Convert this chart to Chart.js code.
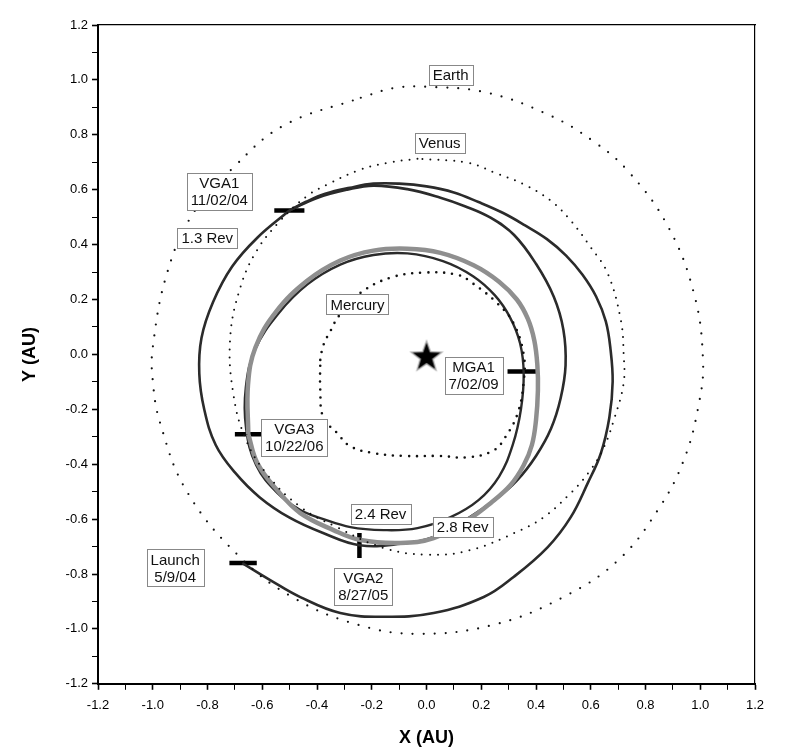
<!DOCTYPE html>
<html>
<head>
<meta charset="utf-8">
<script src="https://cdn.jsdelivr.net/npm/chart.js@4.4.0/dist/chart.umd.min.js"></script>
<style>
html, body { margin: 0; padding: 0; background: #fff; }
#wrap { width: 800px; height: 756px; }
</style>
</head>
<body>
<div id="wrap"><canvas id="orbits"></canvas></div>
<script>
"use strict";

// planet orbits (AU)
const earthOrbit = [
    [-0.24, 0.935], [-0.12, 0.97], [0.0, 0.975], [0.223, 0.953], [0.454, 0.869], [0.607, 0.778],
    [0.735, 0.669], [0.88, 0.47], [0.977, 0.222], [1.01, -0.02], [0.995, -0.18], [0.94, -0.385],
    [0.845, -0.567], [0.70, -0.75], [0.50, -0.884], [0.245, -0.985], [-0.033, -1.018], [-0.25, -0.985],
    [-0.48, -0.89], [-0.68, -0.74], [-0.875, -0.50], [-0.973, -0.25], [-1.0, -0.095], [-1.0, 0.025],
    [-0.948, 0.295], [-0.853, 0.513], [-0.706, 0.68], [-0.523, 0.833], [-0.24, 0.935]
];
const venusOrbit = [
    [-0.033, 0.713], [-0.143, 0.698], [-0.25, 0.67], [-0.36, 0.62], [-0.435, 0.578], [-0.534, 0.487],
    [-0.62, 0.378], [-0.68, 0.244], [-0.717, 0.062], [-0.706, -0.142], [-0.66, -0.31], [-0.58, -0.44],
    [-0.46, -0.556], [-0.326, -0.63], [-0.157, -0.705], [0.004, -0.73], [0.16, -0.713], [0.344, -0.64],
    [0.428, -0.593], [0.527, -0.505], [0.60, -0.42], [0.648, -0.338], [0.684, -0.24], [0.72, -0.105],
    [0.72, 0.004], [0.71, 0.124], [0.662, 0.295], [0.60, 0.39], [0.527, 0.487], [0.454, 0.56],
    [0.355, 0.62], [0.26, 0.658], [0.15, 0.698], [-0.033, 0.713]
];
const mercuryOrbit = [
    [-0.388, -0.02], [-0.377, 0.033], [-0.35, 0.087], [-0.32, 0.14], [-0.24, 0.225], [-0.13, 0.28],
    [-0.01, 0.298], [0.113, 0.29], [0.17, 0.258], [0.26, 0.185], [0.318, 0.113], [0.355, 0.0],
    [0.355, -0.1], [0.333, -0.215], [0.289, -0.30], [0.245, -0.35], [0.15, -0.375], [0.05, -0.37],
    [-0.08, -0.37], [-0.19, -0.36], [-0.278, -0.335], [-0.326, -0.287], [-0.377, -0.23], [-0.388, -0.13],
    [-0.388, -0.02]
];

// spacecraft trajectory legs (AU)
const launchLeg = [
    [-0.673, -0.76], [-0.571, -0.822], [-0.461, -0.884], [-0.315, -0.942], [-0.157, -0.956], [0.026, -0.942],
    [0.209, -0.884], [0.318, -0.811], [0.443, -0.702], [0.527, -0.593], [0.589, -0.469], [0.637, -0.36],
    [0.668, -0.23], [0.68, -0.10], [0.672, 0.02], [0.655, 0.12], [0.62, 0.21], [0.57, 0.29],
    [0.51, 0.36], [0.44, 0.42], [0.36, 0.47], [0.28, 0.515], [0.19, 0.555], [0.1, 0.59], [0.0, 0.612],
    [-0.1, 0.622], [-0.194, 0.622], [-0.28, 0.607], [-0.37, 0.585], [-0.44, 0.556], [-0.501, 0.524]
];
const vga1Leg = [
    [-0.501, 0.524], [-0.618, 0.425], [-0.71, 0.32], [-0.78, 0.19], [-0.822, 0.06], [-0.83, -0.07],
    [-0.812, -0.2], [-0.77, -0.33], [-0.70, -0.43], [-0.61, -0.52], [-0.50, -0.595], [-0.38, -0.65],
    [-0.245, -0.695], [-0.095, -0.69], [0.026, -0.665], [0.15, -0.598], [0.25, -0.53], [0.33, -0.46],
    [0.40, -0.37], [0.455, -0.27], [0.49, -0.16], [0.508, -0.04], [0.50, 0.09], [0.465, 0.21],
    [0.40, 0.33], [0.32, 0.435], [0.234, 0.498], [0.14, 0.54], [0.051, 0.571], [-0.07, 0.602],
    [-0.194, 0.615], [-0.29, 0.60], [-0.40, 0.57], [-0.501, 0.524]
];
const vga2Leg = [
    [-0.399, -0.593], [-0.278, -0.629], [-0.157, -0.64], [-0.033, -0.633], [0.088, -0.593], [0.19, -0.531],
    [0.265, -0.445], [0.315, -0.33], [0.345, -0.2], [0.355, -0.069], [0.342, 0.04], [0.305, 0.135],
    [0.25, 0.215], [0.17, 0.285], [0.06, 0.34], [-0.07, 0.368], [-0.194, 0.362], [-0.315, 0.327],
    [-0.435, 0.255], [-0.54, 0.15], [-0.625, 0.02], [-0.66, -0.12], [-0.659, -0.27], [-0.622, -0.404],
    [-0.545, -0.505], [-0.461, -0.567], [-0.399, -0.593]
];
const vga3Leg = [
    [-0.651, -0.291], [-0.618, -0.396], [-0.545, -0.495], [-0.461, -0.578], [-0.34, -0.64], [-0.241, -0.676],
    [-0.095, -0.687], [0.026, -0.669], [0.15, -0.604], [0.234, -0.542], [0.307, -0.476], [0.355, -0.404],
    [0.385, -0.33], [0.40, -0.24], [0.407, -0.131], [0.405, -0.04], [0.394, 0.05], [0.37, 0.13],
    [0.33, 0.2], [0.265, 0.265], [0.172, 0.325], [0.051, 0.37], [-0.07, 0.385], [-0.194, 0.378],
    [-0.315, 0.342], [-0.435, 0.269], [-0.55, 0.155], [-0.625, 0.025], [-0.652, -0.11], [-0.651, -0.291]
];

// event ticks on the path
const launchMark = [[-0.72, -0.76], [-0.62, -0.76]];
const vga1Mark = [[-0.556, 0.524], [-0.446, 0.524]];
const vga2Mark = [[-0.245, -0.651], [-0.245, -0.742]];
const vga3Mark = [[-0.70, -0.291], [-0.60, -0.291]];
const mga1Mark = [[0.296, -0.062], [0.41, -0.062]];
const sunPos = [[0.0, -0.01]];

const noteLabels = [
    { text: ['Earth'], x: 0.088, y: 1.018 },
    { text: ['Venus'], x: 0.048, y: 0.771 },
    { text: ['VGA1', '11/02/04'], x: -0.757, y: 0.593 },
    { text: ['1.3 Rev'], x: -0.801, y: 0.424 },
    { text: ['Mercury'], x: -0.252, y: 0.182 },
    { text: ['MGA1', '7/02/09'], x: 0.172, y: -0.076 },
    { text: ['VGA3', '10/22/06'], x: -0.483, y: -0.302 },
    { text: ['2.4 Rev'], x: -0.168, y: -0.582 },
    { text: ['2.8 Rev'], x: 0.132, y: -0.629 },
    { text: ['Launch', '5/9/04'], x: -0.918, y: -0.778 },
    { text: ['VGA2', '8/27/05'], x: -0.231, y: -0.844 }
];

const FONT = '"Liberation Sans", Arial, Helvetica, sans-serif';

const toXY = pts => pts.map(p => ({ x: p[0], y: p[1] }));

function path(label, pts, color, width, dash) {
    return {
        label: label,
        data: toXY(pts),
        showLine: true,
        borderColor: color,
        borderWidth: width,
        borderDash: dash || [],
        borderCapStyle: dash ? 'round' : 'butt',
        tension: 0.4,
        pointRadius: 0,
        pointHoverRadius: 0
    };
}

function mark(label, pts) {
    return {
        label: label,
        data: toXY(pts),
        showLine: true,
        borderColor: '#000',
        borderWidth: 4.5,
        tension: 0,
        pointRadius: 0
    };
}

// sun symbol
const star = document.createElement('canvas');
star.width = 38; star.height = 38;
(function () {
    const c = star.getContext('2d');
    function starPath(R, r) {
        c.beginPath();
        for (let i = 0; i < 10; i++) {
            const a = -Math.PI / 2 + i * Math.PI / 5;
            const rad = i % 2 === 0 ? R : r;
            c.lineTo(19 + rad * Math.cos(a), 19 + rad * Math.sin(a));
        }
        c.closePath();
    }
    starPath(18, 7.5);
    c.fillStyle = '#aaa';
    c.fill();
    starPath(14.5, 5.8);
    c.fillStyle = '#000';
    c.fill();
})();

const boxLabels = {
    id: 'boxLabels',
    afterDatasetsDraw(chart) {
        const { ctx, scales: { x, y } } = chart;
        ctx.save();
        ctx.font = '15px ' + FONT;
        ctx.textAlign = 'center';
        ctx.textBaseline = 'middle';
        noteLabels.forEach(n => {
            const cx = x.getPixelForValue(n.x);
            const cy = y.getPixelForValue(n.y);
            const w = Math.max(...n.text.map(t => ctx.measureText(t).width)) + 8;
            const h = n.text.length * 17 + 3;
            ctx.fillStyle = '#fff';
            ctx.fillRect(cx - w / 2, cy - h / 2, w, h);
            ctx.strokeStyle = '#888';
            ctx.lineWidth = 1;
            ctx.strokeRect(Math.round(cx - w / 2) + 0.5, Math.round(cy - h / 2) + 0.5, Math.round(w), Math.round(h));
            ctx.fillStyle = '#111';
            n.text.forEach((t, i) => ctx.fillText(t, cx, cy - h / 2 + 2 + 17 * i + 9));
        });
        ctx.restore();
    }
};

const isMajor = v => Math.round(v * 10) % 2 === 0;

function mainAxis(title, pos, titlePad, tickPad) {
    return {
        type: 'linear',
        position: pos,
        min: -1.2,
        max: 1.2,
        ticks: {
            stepSize: 0.1,
            color: '#000',
            padding: tickPad,
            autoSkip: false,
            maxRotation: 0,
            minRotation: 0,
            font: { family: FONT, size: 13 },
            callback: v => isMajor(v) ? (Math.round(v * 10) / 10).toFixed(1) : ''
        },
        grid: {
            drawOnChartArea: false,
            tickLength: 6,
            tickColor: '#000',
            tickWidth: c => (c.tick && isMajor(c.tick.value)) ? 1.6 : 1
        },
        border: { color: '#000', width: 2 },
        title: {
            display: true,
            text: title,
            color: '#000',
            font: { family: FONT, size: 18, weight: 'bold' },
            padding: titlePad
        }
    };
}

function frameAxis(pos) {
    return {
        type: 'linear',
        position: pos,
        min: -1.2,
        max: 1.2,
        display: true,
        ticks: { display: false },
        grid: { drawOnChartArea: false, drawTicks: false },
        border: { color: '#000', width: 1.2 }
    };
}

const ctx = document.getElementById('orbits').getContext('2d');
const orbitChart = new Chart(ctx, {
    type: 'scatter',
    data: {
        datasets: [
            path('Earth', earthOrbit, '#111', 2.2, [0, 11]),
            path('Venus', venusOrbit, '#111', 2, [0, 8]),
            path('Mercury', mercuryOrbit, '#111', 2.6, [0, 8]),
            path('VGA3 - MGA1', vga3Leg, '#8f8f8f', 4.5),
            path('Launch - VGA1', launchLeg, '#2b2b2b', 2.6),
            path('VGA1 - VGA2', vga1Leg, '#2b2b2b', 2.6),
            path('VGA2 - VGA3', vga2Leg, '#2b2b2b', 2.4),
            mark('Launch', launchMark),
            mark('VGA1', vga1Mark),
            mark('VGA2', vga2Mark),
            mark('VGA3', vga3Mark),
            mark('MGA1', mga1Mark),
            {
                label: 'Sun',
                data: toXY(sunPos),
                pointStyle: star,
                pointRadius: 18
            }
        ]
    },
    options: {
        responsive: true,
        maintainAspectRatio: false,
        animation: false,
        layout: {
            padding: { left: 14, right: 45, top: 25, bottom: 5 }
        },
        scales: {
            x: mainAxis('X (AU)', 'bottom', { top: 6, bottom: 2 }, 8),
            y: mainAxis('Y (AU)', 'left', { top: 5, bottom: 21 }, 4),
            x2: frameAxis('top'),
            y2: frameAxis('right')
        },
        plugins: {
            legend: { display: false },
            tooltip: { enabled: false }
        }
    },
    plugins: [boxLabels]
});
</script>
</body>
</html>
